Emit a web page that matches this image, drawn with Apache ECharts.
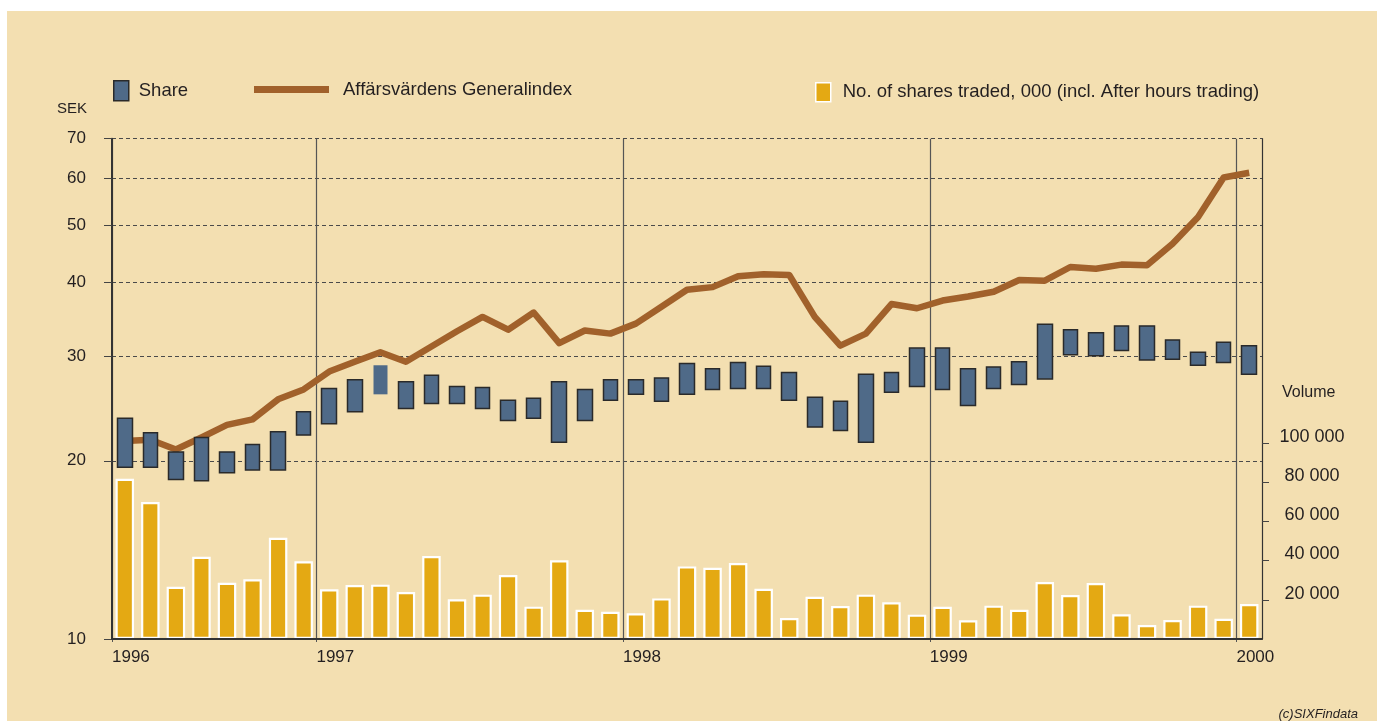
<!DOCTYPE html>
<html>
<head>
<meta charset="utf-8">
<script src="https://cdn.jsdelivr.net/npm/echarts@6/dist/echarts.min.js"></script>
<style>
  html, body { margin: 0; padding: 0; background: #fff; }
  #chart {
    width: 1377px; height: 721px;
    background:
      linear-gradient(#fff, #fff) 0 0 / 100% 11px no-repeat,
      linear-gradient(#fff, #fff) 0 0 / 7px 100% no-repeat,
      #f3dfb1;
  }
</style>
</head>
<body>
<div id="chart"></div>
<script>
  // months shown (May 1996 - Jan 2000)
  var months = [
    '1996-05','1996-06','1996-07','1996-08','1996-09','1996-10','1996-11','1996-12',
    '1997-01','1997-02','1997-03','1997-04','1997-05','1997-06','1997-07','1997-08','1997-09','1997-10','1997-11','1997-12',
    '1998-01','1998-02','1998-03','1998-04','1998-05','1998-06','1998-07','1998-08','1998-09','1998-10','1998-11','1998-12',
    '1999-01','1999-02','1999-03','1999-04','1999-05','1999-06','1999-07','1999-08','1999-09','1999-10','1999-11','1999-12',
    '2000-01'
  ];
  // share price range per month, SEK
  var shareLow = [
    19.5, 19.5, 18.6, 18.5, 19.1, 19.3, 19.3, 22.1,
    23.1, 24.2, 25.9, 24.5, 25.0, 25.0, 24.5, 23.4, 23.6, 21.5, 23.4, 25.3,
    25.9, 25.2, 25.9, 26.4, 26.5, 26.5, 25.3, 22.8, 22.5, 21.5, 26.1, 26.7,
    26.4, 24.8, 26.5, 26.9, 27.5, 30.2, 30.1, 30.7, 29.6, 29.7, 29.0, 29.3,
    28.0
  ];
  var shareHigh = [
    23.6, 22.3, 20.7, 21.9, 20.7, 21.3, 22.4, 24.2,
    26.5, 27.4, 29.0, 27.2, 27.9, 26.7, 26.6, 25.3, 25.5, 27.2, 26.4, 27.4,
    27.4, 27.6, 29.2, 28.6, 29.3, 28.9, 28.2, 25.6, 25.2, 28.0, 28.2, 31.0,
    31.0, 28.6, 28.8, 29.4, 34.0, 33.3, 32.9, 33.8, 33.8, 32.0, 30.5, 31.7,
    31.3
  ];
  // Affärsvärdens Generalindex, rebased to the SEK scale
  var indexValues = [
    21.6, 21.7, 20.9, 21.9, 23.0, 23.5, 25.4, 26.4,
    28.3, 29.4, 30.5, 29.4, 31.2, 33.1, 35.0, 33.3, 35.6, 31.6, 33.2, 32.8,
    34.1, 36.4, 38.9, 39.3, 41.0, 41.3, 41.2, 35.0, 31.3, 32.8, 36.8, 36.2,
    37.3, 37.9, 38.6, 40.4, 40.3, 42.5, 42.2, 42.9, 42.8, 46.5, 51.6, 60.2,
    61.3
  ];
  // no. of shares traded, 000
  var volume = [
    81700, 69800, 26600, 41900, 28700, 30400, 51600, 39600,
    25300, 27500, 27700, 23900, 42300, 20200, 22600, 32600, 16500, 40100, 14900, 13900,
    13100, 20700, 37000, 36300, 38700, 25600, 10700, 21500, 16800, 22600, 18700, 12400,
    16400, 9500, 17000, 14900, 29000, 22400, 28500, 12600, 7100, 9700, 17000, 10300,
    17800
  ];
  var sekTicks = [10, 20, 30, 40, 50, 60, 70];
  var volumeTicks = [20000, 40000, 60000, 80000, 100000];
  var plainMonth = '1997-03';   // the one share box drawn without outline

  var FONT = '"Liberation Sans", Arial, sans-serif';
  var TEXT = '#231f20';
  var BLUE = '#4f6a88';
  var EDGE = '#2a2a2a';
  var BROWN = '#a1612b';
  var GOLD = '#e4a913';
  var SHARE = 'Share';
  var INDEX = 'Affärsvärdens Generalindex';
  var VOL = 'No. of shares traded, 000 (incl. After hours trading)';

  // year boundaries come from the month list
  var yearStarts = [];
  var yearNames = {};
  months.forEach(function (m, i) {
    if (i === 0 || m.slice(5) === '01') {
      yearStarts.push(i);
      yearNames[i] = m.slice(0, 4);
    }
  });

  var candles = months.map(function (m, i) {
    var item = { value: [shareLow[i], shareHigh[i], shareLow[i], shareHigh[i]] };
    if (m === plainMonth) {
      item.itemStyle = { borderWidth: 0, borderColor: BLUE, borderColor0: BLUE };
    }
    return item;
  });

  function spaced(v) {
    return String(v).replace(/\B(?=(\d{3})+(?!\d))/g, ' ');
  }

  var chart = echarts.init(document.getElementById('chart'));
  var legendText = { fontSize: 18.5, color: TEXT, fontFamily: FONT };

  chart.setOption({
    backgroundColor: 'transparent',
    animation: false,
    textStyle: { fontFamily: FONT },
    grid: { left: 112, right: 115, top: 138.7, bottom: 82, outerBoundsMode: 'none' },
    legend: [
      {
        data: [SHARE], left: 113, top: 80, padding: 0, selectedMode: false,
        icon: 'rect', itemWidth: 15, itemHeight: 20,
        itemStyle: { color: BLUE, borderColor: EDGE, borderWidth: 1.5 },
        textStyle: Object.assign({ padding: [0, 0, 0, 5] }, legendText)
      },
      {
        data: [INDEX], left: 254, top: 80, padding: 0, selectedMode: false,
        icon: 'rect', itemWidth: 75, itemHeight: 7,
        itemStyle: { color: BROWN, borderWidth: 0 },
        textStyle: Object.assign({ padding: [0, 0, 0, 9] }, legendText)
      },
      {
        data: [VOL], left: 815, top: 82, padding: 0, selectedMode: false,
        icon: 'rect', itemWidth: 15, itemHeight: 19,
        itemStyle: { color: GOLD, borderColor: '#fff', borderWidth: 1.5 },
        textStyle: Object.assign({ padding: [0, 0, 0, 7] }, legendText)
      }
    ],
    xAxis: [
      {
        type: 'category', data: months, position: 'bottom', boundaryGap: true, z: 5,
        axisLine: { show: true, lineStyle: { color: '#333', width: 2 } },
        axisTick: { show: false },
        axisLabel: { show: false },
        splitLine: { show: false }
      },
      {
        type: 'value', min: 0, max: months.length, position: 'bottom',
        axisLine: { show: false },
        axisTick: { show: true, length: 3, customValues: yearStarts, lineStyle: { color: '#555' } },
        axisLabel: {
          customValues: yearStarts, align: 'left', margin: 10,
          fontSize: 17, color: TEXT, fontFamily: FONT,
          formatter: function (v) { return yearNames[v]; }
        },
        splitLine: { show: true, lineStyle: { color: '#555', width: 1.2 } }
      }
    ],
    yAxis: [
      {
        type: 'log', logBase: 10, min: 10, max: 70, position: 'left',
        axisLine: { show: true, lineStyle: { color: '#333', width: 2 } },
        axisTick: { show: true, length: 8, customValues: sekTicks, lineStyle: { color: '#444' } },
        axisLabel: { customValues: sekTicks, margin: 26, fontSize: 17, color: TEXT, fontFamily: FONT },
        splitLine: { show: true, lineStyle: { color: '#4a4a4a', width: 1, type: [4, 3] } }
      },
      {
        type: 'value', min: 0, max: 255000, position: 'right',
        axisLine: { show: true, lineStyle: { color: '#333', width: 1.2 } },
        axisTick: { show: true, length: 7, customValues: volumeTicks, lineStyle: { color: '#444' } },
        axisLabel: {
          customValues: volumeTicks, align: 'center', margin: 50,
          verticalAlign: 'bottom', lineHeight: 12,
          fontSize: 18, color: TEXT, fontFamily: FONT, formatter: spaced
        },
        splitLine: { show: false }
      }
    ],
    graphic: [
      { type: 'text', x: 87, y: 109, silent: true,
        style: { text: 'SEK', align: 'right', verticalAlign: 'middle', fill: TEXT, font: '15px ' + FONT } },
      { type: 'text', x: 1282, y: 393, silent: true,
        style: { text: 'Volume', align: 'left', verticalAlign: 'middle', fill: TEXT, font: '16px ' + FONT } },
      { type: 'text', x: 1358, y: 714, silent: true,
        style: { text: '(c)SIXFindata', align: 'right', verticalAlign: 'middle', fill: TEXT, font: 'italic 13px ' + FONT } }
    ],
    series: [
      {
        type: 'bar', name: VOL, xAxisIndex: 0, yAxisIndex: 1, data: volume,
        barWidth: 18.5, z: 1, silent: true,
        itemStyle: { color: GOLD, borderColor: '#fff', borderWidth: 2.2 }
      },
      {
        type: 'line', name: INDEX, xAxisIndex: 0, yAxisIndex: 0, data: indexValues,
        symbol: 'none', z: 2, silent: true,
        lineStyle: { color: BROWN, width: 6.5, join: 'round' },
        itemStyle: { color: BROWN }
      },
      {
        type: 'candlestick', name: SHARE, xAxisIndex: 0, yAxisIndex: 0, data: candles,
        barWidth: 15, z: 3, silent: true,
        itemStyle: { color: BLUE, color0: BLUE, borderColor: EDGE, borderColor0: EDGE, borderWidth: 1.5 }
      }
    ]
  });
</script>
</body>
</html>
